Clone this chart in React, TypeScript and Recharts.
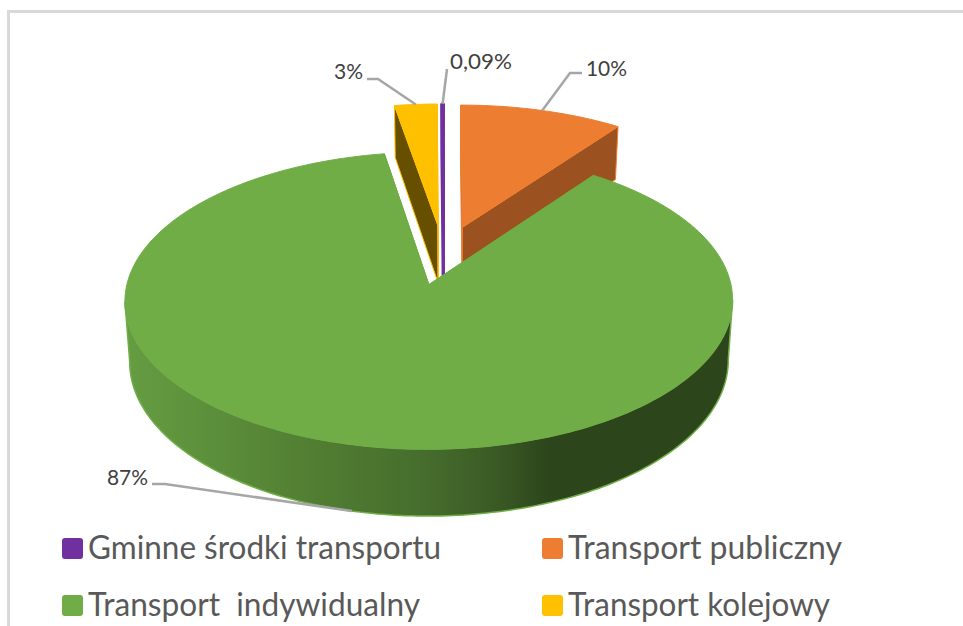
import React from "react";
import { PieChart, Pie, Legend } from "recharts";

// Values, in legend order
const categories = ["Gminne środki transportu", "Transport publiczny", "Transport  indywidualny", "Transport kolejowy"];
const shares = [0.09, 10, 87.31, 2.6];
const shareLabels = ["0,09%", "10%", "87%", "3%"];

// Styles, in legend order
const topColors = ["#7030a0", "#ed7d31", "#70ad47", "#ffc000"];
const faceColors = ["#3f1b5c", "#9c5220", "#3d6327", "#665000"];
const drawOrder = [3, 0, 1, 2];

// Leader line elbow and text position, in legend order
const elbows = [
  [[447, 69]],
  [[570, 73], [582, 73]],
  [[165, 484], [152, 484]],
  [[378, 79], [367, 79]],
];
const labelPos: [number, number, "start" | "end", number][] = [
  [450, 69, "start", 62],
  [586, 76, "start", 41],
  [148, 485, "end", 41],
  [363, 79, "end", 29],
];
const legendPos = [[62, 538], [542, 538], [62, 595], [542, 595]];
const legendWidths = [353, 274, 332, 262];

// Projection of the tilted, exploded pie
const RX = 295.5, RY = 140.5, PERSP = 0.105, EXPLODE = 0.212, DEPTH = 58.5, BOTTOM_NARROW = 0.985;
const rows = drawOrder.map((i) => ({ idx: i, name: categories[i], value: shares[i], label: shareLabels[i] }));
const startShare = shares[drawOrder[0]] + shares[drawOrder[1]];
const totalShare = shares.reduce((a, b) => a + b, 0);
const START_ANGLE = 90 + (startShare / totalShare) * 360;

function project(cx: number, cy: number, theta: number, r: number, midTheta: number, bottom = false) {
  const a = (theta * Math.PI) / 180;
  const m = (midTheta * Math.PI) / 180;
  const X = r * Math.sin(a) + EXPLODE * Math.sin(m);
  const Y = -r * Math.cos(a) - EXPLODE * Math.cos(m);
  const k = 1 / (1 - PERSP * Y);
  const n = bottom ? BOTTOM_NARROW : 1;
  return [cx + RX * X * k * n, cy + RY * Y * k + (bottom ? DEPTH * k : 0)];
}
const toPath = (pts: number[][]) => "M" + pts.map((p) => `${p[0].toFixed(2)},${p[1].toFixed(2)}`).join("L") + "Z";

function Slice(props: any) {
  const { cx, cy, startAngle, endAngle, payload } = props;
  const idx = payload.idx;
  const t0 = 90 - startAngle;
  const t1 = 90 - endAngle;
  const mid = (t0 + t1) / 2;
  const steps = Math.max(2, Math.ceil((t1 - t0) / 1));
  const rim: number[][] = [];
  const rimLow: number[][] = [];
  for (let s = 0; s <= steps; s++) {
    const t = t0 + ((t1 - t0) * s) / steps;
    rim.push(project(cx, cy, t, 1, mid));
    rimLow.push(project(cx, cy, t, 1, mid, true));
  }
  const apex = project(cx, cy, 0, 0, mid);
  const apexLow = project(cx, cy, 0, 0, mid, true);
  const top = topColors[idx];
  const face = faceColors[idx];
  const edge = idx === 0 ? 3 : 1;
  let wall: React.ReactNode = null;
  if (t1 - t0 > 180) {
    let lo = 0, hi = 0;
    rim.forEach((p, i) => {
      if (p[0] > rim[lo][0]) lo = i;
      if (p[0] < rim[hi][0]) hi = i;
    });
    const wallPts = [...rim.slice(lo, hi + 1), ...rimLow.slice(lo, hi + 1).reverse()];
    wall = (
      <>
        <defs>
          <linearGradient id="wallShade" gradientUnits="userSpaceOnUse" x1={125} x2={732} y1={0} y2={0}>
            <stop offset="0" stopColor="#659d42" />
            <stop offset="0.3" stopColor="#527f33" />
            <stop offset="0.5" stopColor="#456c2c" />
            <stop offset="0.6" stopColor="#3c5c26" />
            <stop offset="0.7" stopColor="#2c451b" />
            <stop offset="1" stopColor="#2c451b" />
          </linearGradient>
        </defs>
        <path d={toPath(wallPts)} fill="url(#wallShade)" stroke={top} strokeWidth={1.5} />
      </>
    );
  }
  return (
    <g>
      {wall}
      <path d={toPath([apex, rim[0], rimLow[0], apexLow])} fill={idx === 0 ? top : face} stroke={top} strokeWidth={edge} />
      <path d={toPath([apex, rim[steps], rimLow[steps], apexLow])} fill={idx === 0 ? top : face} stroke={top} strokeWidth={edge} />
      <path d={toPath([apex, ...rim])} fill={top} stroke={top} strokeWidth={edge} strokeLinejoin="round" />
    </g>
  );
}

function SliceLabel(props: any) {
  const { cx, cy, payload, midAngle } = props;
  const idx = payload.idx;
  const mid = 90 - midAngle;
  const anchor = project(cx, cy, mid, 1, mid, idx === 2);
  const [lx, ly, side, width] = labelPos[idx];
  const pts = [anchor, ...elbows[idx]];
  return (
    <g>
      <polyline points={pts.map((p) => p.join(",")).join(" ")} fill="none" stroke="#a6a6a6" strokeWidth={2.5} />
      <text
        x={side === "start" ? lx : lx - width}
        y={ly}
        textLength={width}
        lengthAdjust="spacingAndGlyphs"
        fontFamily="Lato, sans-serif"
        fontSize={22}
        fill="#404040"
      >
        {payload.label}
      </text>
    </g>
  );
}

function LegendBlock() {
  return (
    <svg width={963} height={626} style={{ position: "absolute", left: 0, top: 0 }}>
      {categories.map((c, i) => (
        <g key={c}>
          <rect x={legendPos[i][0]} y={legendPos[i][1]} width={21} height={21} rx={3} fill={topColors[i]} />
          <text
            x={legendPos[i][0] + 26}
            y={legendPos[i][1] + 21}
            textLength={legendWidths[i]}
            lengthAdjust="spacingAndGlyphs"
            fontFamily="Lato, sans-serif"
            fontSize={32}
            fill="#595959"
            style={{ whiteSpace: "pre" }}
          >
            {c}
          </text>
        </g>
      ))}
    </svg>
  );
}

export default function App() {
  return (
    <div style={{ position: "absolute", left: 0, top: 0, width: 963, height: 626, overflow: "hidden", background: "#fff" }}>
      <div
        style={{
          position: "absolute",
          left: 7,
          top: 10,
          width: 960,
          height: 620,
          borderLeft: "3px solid #d9d9d9",
          borderTop: "3px solid #d9d9d9",
        }}
      />
      <PieChart width={963} height={626} style={{ position: "absolute", left: 0, top: 0 }} margin={{ top: 0, right: 0, bottom: 0, left: 0 }}>
        <Pie
          data={rows}
          dataKey="value"
          nameKey="name"
          cx={443.5}
          cy={255}
          outerRadius={200}
          startAngle={START_ANGLE}
          endAngle={START_ANGLE - 360}
          paddingAngle={0}
          isAnimationActive={false}
          shape={Slice}
          label={SliceLabel}
          labelLine={false}
        />
        <Legend content={<LegendBlock />} wrapperStyle={{ left: 0, top: 0, width: 963, height: 626, bottom: "auto" }} />
      </PieChart>
    </div>
  );
}
